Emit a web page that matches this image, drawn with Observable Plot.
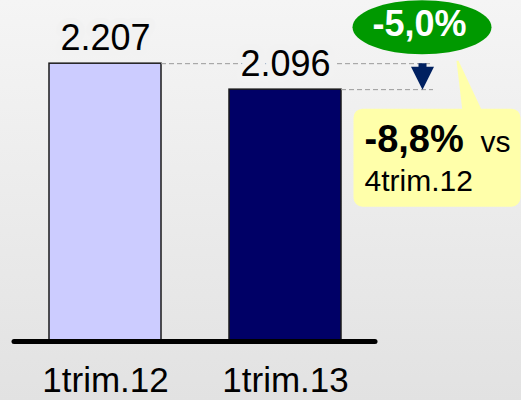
<!DOCTYPE html>
<html>
<head>
<meta charset="utf-8">
<script src="https://cdn.jsdelivr.net/npm/d3@7"></script>
<script src="https://cdn.jsdelivr.net/npm/@observablehq/plot@0.6"></script>
<style>
  html, body { margin: 0; padding: 0; }
  body { width: 521px; height: 400px; background: linear-gradient(#f5f5f5, #e2e2e2); overflow: hidden; }
  #chart svg { display: block; }
</style>
</head>
<body>
<div id="chart"></div>
<script>
// ---- data ----
const categories = ["1trim.12", "1trim.13"];
const values = [2207, 2096];
const barFills = ["#ccccff", "#000066"];
const yDomain = [1020, 2400];
const calloutBold = "-8,8%";
const calloutVs = "vs";
const calloutRef = "4trim.12";

const locale = d3.formatLocale({decimal: ",", thousands: ".", grouping: [3], currency: ["", ""], minus: "-"});
const fmtNum = locale.format(",d");
const fmtPct = locale.format(".1%");
const changeLabel = fmtPct(values[1] / values[0] - 1);

const rows = categories.map((c, i) => ({cat: c, value: values[i], fill: barFills[i]}));
const last = rows[rows.length - 1];
const first = rows[0];

const font = "'Liberation Sans', Arial, Helvetica, sans-serif";

// ---- custom symbols (shapes only) ----
function ellipseSymbol(rx, ry) {
  const k = 0.5523;
  return {draw(ctx) {
    ctx.moveTo(rx, 0);
    ctx.bezierCurveTo(rx, ry * k, rx * k, ry, 0, ry);
    ctx.bezierCurveTo(-rx * k, ry, -rx, ry * k, -rx, 0);
    ctx.bezierCurveTo(-rx, -ry * k, -rx * k, -ry, 0, -ry);
    ctx.bezierCurveTo(rx * k, -ry, rx, -ry * k, rx, 0);
    ctx.closePath();
  }};
}
const arrowSymbol = {draw(ctx) {
  ctx.moveTo(-4, -26.5); ctx.lineTo(4, -26.5); ctx.lineTo(4, -23);
  ctx.lineTo(11.5, -23); ctx.lineTo(0, 0); ctx.lineTo(-11.5, -23);
  ctx.lineTo(-4, -23); ctx.closePath();
}};
function calloutSymbol(w, h, r) {
  return {draw(ctx) {
    ctx.moveTo(r, 0); ctx.lineTo(w - r, 0); ctx.arcTo(w, 0, w, r, r);
    ctx.lineTo(w, h - r); ctx.arcTo(w, h, w - r, h, r);
    ctx.lineTo(r, h); ctx.arcTo(0, h, 0, h - r, r);
    ctx.lineTo(0, r); ctx.arcTo(0, 0, r, 0, r); ctx.closePath();
    ctx.moveTo(103, -48); ctx.lineTo(105, -48); ctx.lineTo(129, 3); ctx.lineTo(109, 3); ctx.closePath();
  }};
}

const chart = Plot.plot({
  width: 521,
  height: 400,
  marginLeft: 14,
  marginRight: 146,
  marginTop: 18,
  marginBottom: 59,
  style: {background: "transparent", color: "#000", fontFamily: font, overflow: "visible"},
  x: {type: "band", domain: categories, paddingInner: 0.38, paddingOuter: 0.19},
  y: {domain: yDomain, axis: null},
  marks: [
    Plot.barY(rows, {x: "cat", y1: () => yDomain[0], y2: "value", fill: "fill", stroke: "#1a1a1a", strokeWidth: 1.5}),
    Plot.ruleY([yDomain[0]], {stroke: "#000", strokeWidth: 5, strokeLinecap: "round"}),
    // dashed reference lines
    Plot.ruleY([first], {y: "value", x1: () => categories[0], x2: () => categories[1], insetLeft: 112, insetRight: -92, stroke: "#9a9a9a", strokeDasharray: "5,3", strokeWidth: 1}),
    Plot.ruleY([last], {y: "value", x1: "cat", x2: "cat", insetLeft: 112, insetRight: -92, stroke: "#9a9a9a", strokeDasharray: "5,3", strokeWidth: 1}),
    // value labels
    Plot.text(rows, {x: "cat", y: "value", text: d => fmtNum(d.value), dy: -14, lineAnchor: "bottom", fontSize: 36, fill: "#000", stroke: "#f2f2f2", strokeWidth: 12, strokeLinejoin: "round"}),
    Plot.axisX({tickSize: 0, tickPadding: 26, fontSize: 35, label: null, fill: "#000"}),
    // callout box
    Plot.dot([last], {x: "cat", y: "value", dx: 68, dy: 19, symbol: calloutSymbol(167, 98, 9), r: 10, fill: "#ffffaa", stroke: "none"}),
    Plot.text([last], {x: "cat", y: "value", text: () => calloutBold, dx: 79, dy: 62, textAnchor: "start", lineAnchor: "bottom", fontSize: 38, fontWeight: "bold", fill: "#000"}),
    Plot.text([last], {x: "cat", y: "value", text: () => calloutVs, dx: 195, dy: 62, textAnchor: "start", lineAnchor: "bottom", fontSize: 30, fill: "#000"}),
    Plot.text([last], {x: "cat", y: "value", text: () => calloutRef, dx: 79, dy: 101, textAnchor: "start", lineAnchor: "bottom", fontSize: 30, fill: "#000"}),
    // green ellipse with change
    Plot.dot([last], {x: "cat", y: "value", dx: 136.5, dy: -62.5, symbol: ellipseSymbol(69.5, 27), r: 10, fill: "#009900", stroke: "none"}),
    Plot.text([last], {x: "cat", y: "value", text: () => changeLabel, dx: 134, dy: -54, lineAnchor: "bottom", fontSize: 36, fontWeight: "bold", fill: "#fff"}),
    // arrow
    Plot.dot([last], {x: "cat", y: "value", dx: 137, symbol: arrowSymbol, r: 10, fill: "#002060", stroke: "none"})
  ]
});
document.getElementById("chart").appendChild(chart);
</script>
</body>
</html>
